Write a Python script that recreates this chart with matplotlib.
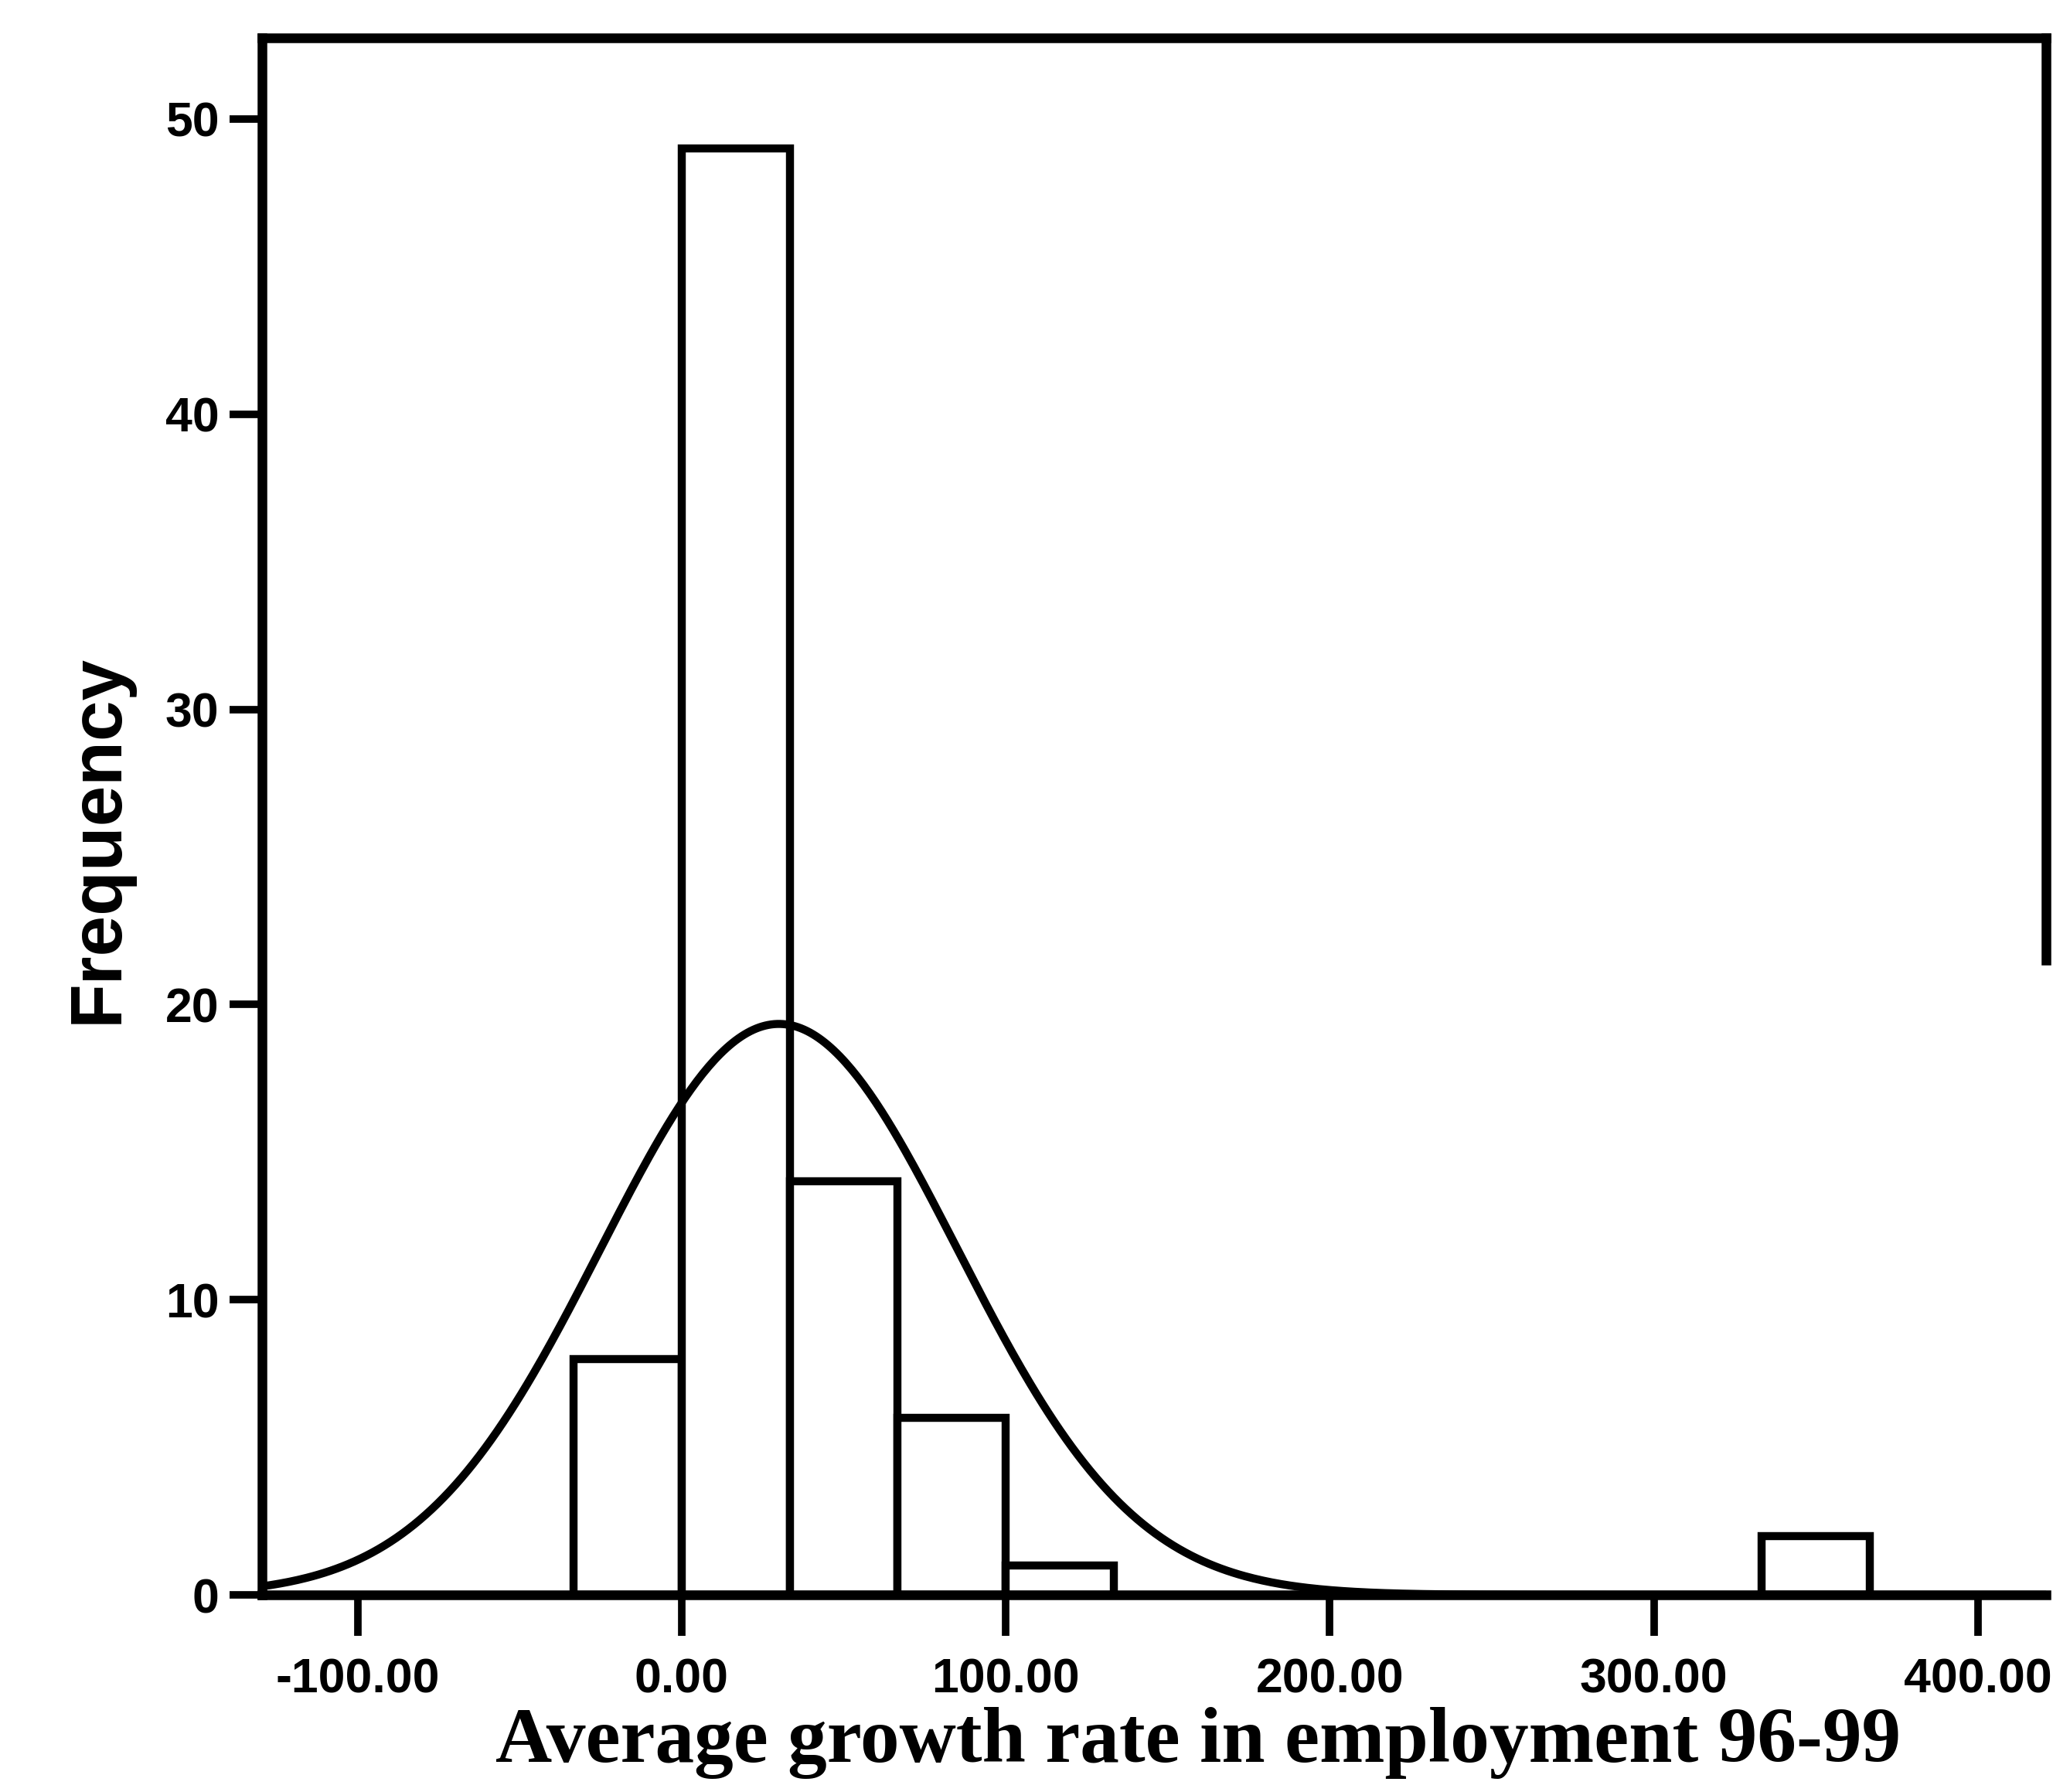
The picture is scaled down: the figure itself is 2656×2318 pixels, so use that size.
import numpy as np
import matplotlib
matplotlib.use("Agg")
import matplotlib.pyplot as plt

# ---- data ----
bin_width = 100.0 / 3.0
bin_starts = [-33.33, 0.0, 33.33, 66.67, 100.0, 333.33]
counts = [8, 49, 14, 6, 1, 2]
n_total = 80
curve_mean = 30.0
curve_sd = 55.0

x_ticks = [-100, 0, 100, 200, 300, 400]
x_tick_labels = ["-100.00", "0.00", "100.00", "200.00", "300.00", "400.00"]
y_ticks = [0, 10, 20, 30, 40, 50]
y_tick_labels = ["0", "10", "20", "30", "40", "50"]
x_label = "Average growth rate in employment 96-99"
y_label = "Frequency"

# ---- figure ----
fig = plt.figure(figsize=(26.56, 23.18), dpi=100)
ax = fig.add_axes([0.1276, 0.110, 0.9966 - 0.1276, 0.9789 - 0.110])

ax.bar(bin_starts, counts, width=bin_width, align="edge",
       facecolor="white", edgecolor="black", linewidth=7.5, zorder=2)

xs = np.linspace(-129.5, 421, 600)
ys = n_total * bin_width / (curve_sd * np.sqrt(2 * np.pi)) * np.exp(-0.5 * ((xs - curve_mean) / curve_sd) ** 2)
ax.plot(xs, ys, color="black", linewidth=7.5, zorder=3, solid_capstyle="round")

ax.set_xlim(-129.5, 421)
ax.set_ylim(0, 52.75)

for side in ["left", "right", "top", "bottom"]:
    ax.spines[side].set_linewidth(9)
    ax.spines[side].set_color("black")
    ax.spines[side].set_zorder(4)
ax.spines["right"].set_bounds(21.5, 52.75)

ax.set_xticks(x_ticks)
ax.set_xticklabels(x_tick_labels)
ax.set_yticks(y_ticks)
ax.set_yticklabels(y_tick_labels)

for lab in ax.get_xticklabels() + ax.get_yticklabels():
    lab.set_fontfamily(["Liberation Sans", "DejaVu Sans"])
    lab.set_fontweight("bold")
    lab.set_fontsize(45)

ax.tick_params(axis="x", direction="out", length=38, width=7, pad=20, colors="black")
ax.tick_params(axis="y", direction="out", length=30, width=7, pad=10, colors="black")

fig.text(0.0478, 0.532, y_label, rotation=90, ha="center", va="center",
         family=["Liberation Sans", "DejaVu Sans"], weight="bold", fontsize=68)

fig.text(0.5836, 0.017, x_label, ha="center", va="baseline",
         family=["Liberation Serif", "DejaVu Serif"], weight="bold", fontsize=73)

fig.savefig("out.png", dpi=100, facecolor="white")
